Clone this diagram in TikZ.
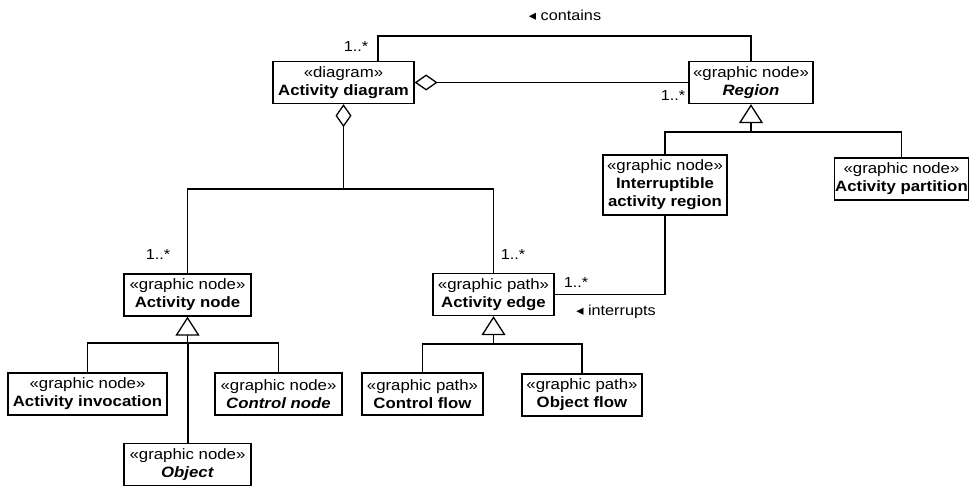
\documentclass[tikz,border=0pt]{standalone}
\usepackage{fontspec}
\setmainfont[FakeStretch=1.12]{Liberation Sans}
\newfontfamily\symfont{DejaVu Sans}
\usetikzlibrary{arrows.meta}

\tikzset{
  classbox/.style={draw, line width=1.3pt, align=center, minimum width=#1, minimum height=42pt, inner sep=1pt, font=\fontsize{15}{18}\selectfont},
  mult/.style={font=\fontsize{14.5}{16}\selectfont, inner sep=1pt},
  gen/.style={-{Triangle[open, length=19pt, width=24pt]}},
  agg/.style={{Diamond[open, length=23pt, width=16pt]}-},
}

\begin{document}
\begin{tikzpicture}[x=1pt, y=-1pt, line width=1.3pt]
\useasboundingbox (0,0) rectangle (970,487);

\node[classbox=141pt] (diag) at (343.5,82.5) {«diagram»\\\textbf{Activity diagram}};
\node[classbox=124pt] (reg) at (751,82.5) {«graphic node»\\\textbf{\textit{Region}}};
\node[classbox=124pt, minimum height=60pt] (intr) at (665,185) {«graphic node»\\\textbf{Interruptible}\\\textbf{activity region}};
\node[classbox=133pt] (part) at (901.5,179) {«graphic node»\\\textbf{Activity partition}};
\node[classbox=127pt] (anode) at (187.5,295) {«graphic node»\\\textbf{Activity node}};
\node[classbox=121pt] (aedge) at (493.5,294.5) {«graphic path»\\\textbf{Activity edge}};
\node[classbox=159pt] (inv) at (87.5,394) {«graphic node»\\\textbf{Activity invocation}};
\node[classbox=127pt] (ctrl) at (278.5,394) {«graphic node»\\\textbf{\textit{Control node}}};
\node[classbox=127pt] (obj) at (187.5,464.5) {«graphic node»\\\textbf{\textit{Object}}};
\node[classbox=121pt] (cflow) at (422.5,394) {«graphic path»\\\textbf{Control flow}};
\node[classbox=120pt] (oflow) at (582,395) {«graphic path»\\\textbf{Object flow}};

\coordinate (ctop) at (378,36);
\draw (diag.north -| ctop) -- (ctop) -| (reg.north);
\node[mult] (contains) at (565,15) {{\symfont ◂} contains};
\draw[agg] (diag.east) -- (reg.west);

\coordinate (split) at (343.5,189);
\draw[agg] (diag.south) -- (split);
\draw (anode.north) |- (split) -| (aedge.north);

\coordinate (rj) at (751,132);
\draw (intr.north) |- (rj) -| (part.north);
\draw[gen] (rj) -- (reg.south);

\coordinate (nj) at (187.5,343);
\draw (inv.north) |- (nj) -| (ctrl.north);
\draw[gen] (nj) -- (anode.south);
\draw[line width=2pt] (obj.north) -- (nj);

\coordinate (ej) at (493.5,344);
\draw (cflow.north) |- (ej) -| (oflow.north);
\draw[gen] (ej) -- (aedge.south);

\draw (aedge.east) -| (intr.south);
\node[mult] (interrupts) at (616,312) {{\symfont ◂} interrupts};

\foreach \n/\x/\y in {a/356/47, b/673/96, c/158/255, d/513/255, e/576/283} {
  \node[mult] (mult\n) at (\x,\y) {1..*};
}
\end{tikzpicture}
\end{document}
